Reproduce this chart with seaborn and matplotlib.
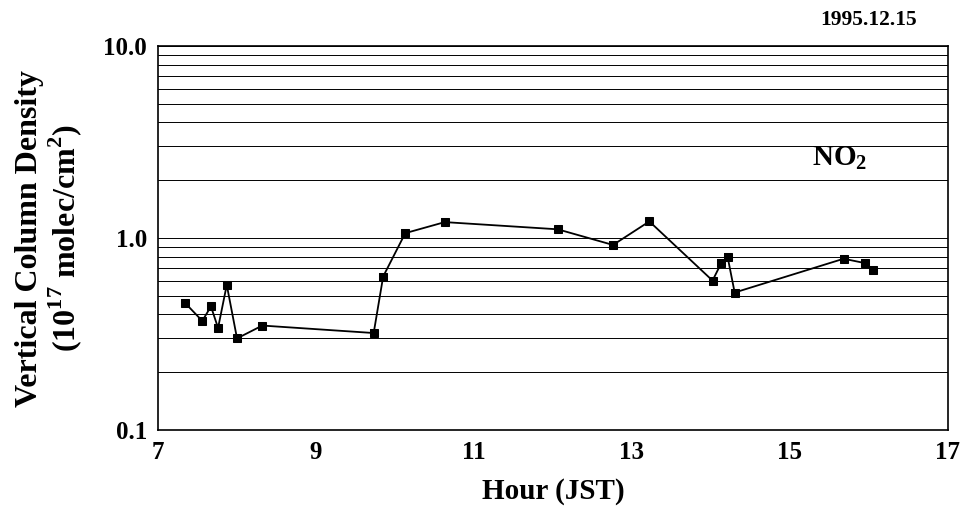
import matplotlib
matplotlib.use("Agg")
import matplotlib.pyplot as plt
import seaborn as sns
import numpy as np
import pandas as pd
from matplotlib.ticker import FixedLocator, NullFormatter, LogLocator

hours = [7.34, 7.56, 7.67, 7.76, 7.87, 8.00, 8.32, 9.73, 9.85, 10.13, 10.63,
         12.06, 12.76, 13.22, 14.02, 14.13, 14.21, 14.30, 15.68, 15.95, 16.05]
vcd = [0.46, 0.37, 0.44, 0.34, 0.57, 0.30, 0.35, 0.32, 0.63, 1.06, 1.21,
       1.11, 0.92, 1.22, 0.60, 0.74, 0.80, 0.52, 0.78, 0.74, 0.68]
err = [0.015, 0.012, 0.015, 0.012, 0.02, 0.01, 0.012, 0.011, 0.02, 0.035, 0.04,
       0.035, 0.03, 0.04, 0.02, 0.025, 0.025, 0.018, 0.025, 0.025, 0.022]
xticks = [7, 9, 11, 13, 15, 17]
yticks = [0.1, 1.0, 10.0]
ytick_labels = ["0.1", "1.0", "10.0"]

df = pd.DataFrame({"Hour": hours, "VCD": vcd})

sns.set_style("white")
plt.rcParams['font.family'] = ['Liberation Serif', 'DejaVu Serif']
plt.rcParams['mathtext.fontset'] = 'custom'
plt.rcParams['mathtext.rm'] = 'Liberation Serif:bold'
plt.rcParams['mathtext.bf'] = 'Liberation Serif:bold'
plt.rcParams['text.color'] = 'black'

fig = plt.figure(figsize=(9.66, 5.22), dpi=100)
ax = fig.add_axes([0.1636, 0.1762, 0.8177, 0.7357])

ax.set_yscale("log")
ax.set_ylim(0.1, 10)
ax.set_xlim(7, 17)

ax.yaxis.set_minor_locator(LogLocator(base=10, subs=np.arange(2, 10)))
ax.yaxis.set_minor_formatter(NullFormatter())
ax.grid(True, which="both", axis="y", color="black", lw=0.7)
ax.grid(False, axis="x")

ax.errorbar(hours, vcd, yerr=err, fmt="none", ecolor="black", elinewidth=1.2,
            capsize=3, capthick=1.2, zorder=3)
sns.lineplot(data=df, x="Hour", y="VCD", ax=ax, color="black", lw=1.3,
             marker="s", markersize=5.5, markeredgecolor="black", markerfacecolor="black",
             sort=False, zorder=4)

ax.yaxis.set_major_locator(FixedLocator(yticks))
ax.set_yticklabels(ytick_labels, fontsize=18, fontweight="bold", color="black")
ax.set_xticks(xticks)
ax.set_xticklabels([str(t) for t in xticks], fontsize=18, fontweight="bold", color="black")
ax.tick_params(axis="both", which="major", direction="in", length=5, width=1, pad=8)
ax.tick_params(axis="y", which="minor", length=0)

for s in ax.spines.values():
    s.set_visible(True)
    s.set_color("black")
    s.set_linewidth(1.2)

ax.set_xlabel("Hour (JST)", fontsize=21, fontweight="bold", labelpad=10, color="black")
ax.set_ylabel("Vertical Column Density\n(10$^{17}$ molec/cm$^{2}$)", fontsize=23,
              fontweight="bold", labelpad=14, linespacing=1.05, color="black")

ax.text(0.863, 0.708, "NO$_2$", transform=ax.transAxes, fontsize=21, fontweight="bold",
        ha="center", va="center")
fig.text(0.899, 0.962, "1995.12.15", fontsize=15.5, fontweight="bold", ha="center", va="center")

fig.savefig("out.png", dpi=100)
